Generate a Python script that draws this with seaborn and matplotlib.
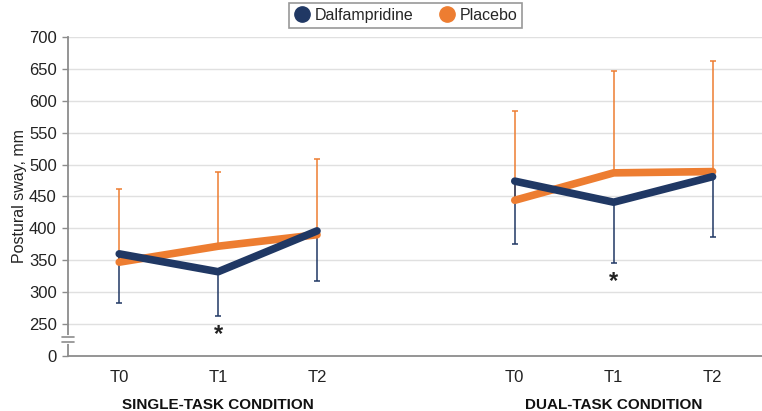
import pandas as pd
import seaborn as sns
import matplotlib.pyplot as plt
from matplotlib.lines import Line2D

# Data
timepoints = ['T0', 'T1', 'T2']
conditions = ['SINGLE-TASK CONDITION', 'DUAL-TASK CONDITION']
dalf_single = [360, 332, 396]
dalf_dual = [474, 441, 481]
plac_single = [347, 372, 390]
plac_dual = [444, 487, 489]
dalf_low_single = [283, 263, 318]
dalf_low_dual = [376, 346, 386]
plac_high_single = [462, 488, 508]
plac_high_dual = [584, 646, 663]

navy = '#203864'
orange = '#ED7D31'

positions = {conditions[0]: [0, 1, 2], conditions[1]: [4, 5, 6]}

rows = []
for cond, d, p, dl, ph in [(conditions[0], dalf_single, plac_single, dalf_low_single, plac_high_single),
                           (conditions[1], dalf_dual, plac_dual, dalf_low_dual, plac_high_dual)]:
    for i, t in enumerate(timepoints):
        x = positions[cond][i]
        rows.append(dict(cond=cond, time=t, pos=x, group='Placebo', value=p[i], err=ph[i]))
        rows.append(dict(cond=cond, time=t, pos=x, group='Dalfampridine', value=d[i], err=dl[i]))
df = pd.DataFrame(rows)

sns.set_style('white')
plt.rcParams['font.family'] = ['Liberation Sans', 'DejaVu Sans']

fig = plt.figure(figsize=(7.62, 4.11), dpi=100)
ax = fig.add_axes([0.089, 0.134, 0.911, 0.776])

# error bars (Dalfampridine down, Placebo up)
for grp, col in [('Placebo', orange), ('Dalfampridine', navy)]:
    sub = df[df.group == grp]
    if grp == 'Placebo':
        yerr = [[0] * len(sub), (sub.err - sub.value).tolist()]
    else:
        yerr = [(sub.value - sub.err).tolist(), [0] * len(sub)]
    ax.errorbar(sub.pos, sub.value, yerr=yerr, fmt='none', ecolor=col,
                elinewidth=1.1, capsize=2, capthick=1.1, zorder=2)

sns.lineplot(data=df, x='pos', y='value', hue='group', units='cond', estimator=None,
             hue_order=['Placebo', 'Dalfampridine'], palette=[orange, navy],
             linewidth=5.5, solid_capstyle='round', solid_joinstyle='round',
             legend=False, ax=ax, zorder=3)

# asterisks at T1
for cond, low in [(conditions[0], dalf_low_single), (conditions[1], dalf_low_dual)]:
    ax.text(positions[cond][1], low[1] - 12, '*', ha='center', va='top', fontsize=17,
            fontweight='bold', color='#222222')

ax.set_xlim(-0.52, 6.5)
ax.set_ylim(200, 700)
ax.set_yticks([200, 250, 300, 350, 400, 450, 500, 550, 600, 650, 700])
ax.set_yticklabels(['0', '250', '300', '350', '400', '450', '500', '550', '600', '650', '700'],
                   fontsize=12, color='#222222')
ax.set_xticks([0, 1, 2, 4, 5, 6])
ax.set_xticklabels(timepoints * 2, fontsize=12, color='#222222')
ax.tick_params(axis='y', length=4, width=1, color='#8c8c8c', pad=4, left=True)
ax.tick_params(axis='x', length=0, pad=10)
for v in range(250, 701, 50):
    ax.axhline(v, color='#e0e0e0', lw=1, zorder=0)
ax.set_xlabel('')
ax.set_ylabel('Postural sway, mm', fontsize=11.5, color='#222222', labelpad=1)

for s in ['top', 'right']:
    ax.spines[s].set_visible(False)
for s in ['left', 'bottom']:
    ax.spines[s].set_color('#8c8c8c')
    ax.spines[s].set_linewidth(1.3)

# axis break marks
ax.plot([-0.52, -0.52], [222, 230], color='white', lw=3, clip_on=False, zorder=5)
for yb in [222, 230]:
    ax.plot([-0.58, -0.46], [yb, yb], color='#8c8c8c', lw=1.2, clip_on=False, zorder=6)

# condition labels
for cond in conditions:
    ax.text(positions[cond][1], -0.133, cond, transform=ax.get_xaxis_transform(),
            ha='center', va='top', fontsize=11, fontweight='bold', color='#111111')

handles = [Line2D([], [], marker='o', color=navy, lw=0, markersize=11),
           Line2D([], [], marker='o', color=orange, lw=0, markersize=11)]
leg = fig.legend(handles, ['Dalfampridine', 'Placebo'], loc='upper center',
                 bbox_to_anchor=(0.532, 1.012), ncol=2, frameon=True, fancybox=False,
                 fontsize=11.5, handletextpad=0.3, columnspacing=1.6, borderpad=0.3,
                 handlelength=1.0)
leg.get_frame().set_edgecolor('#7f7f7f')
leg.get_frame().set_linewidth(1.2)

fig.savefig('out.png', dpi=100)
